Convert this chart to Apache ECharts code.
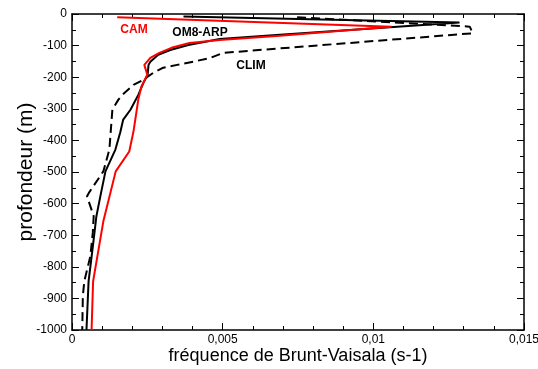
<!DOCTYPE html>
<html>
<head>
<meta charset="utf-8">
<script src="https://cdn.jsdelivr.net/npm/echarts@6/dist/echarts.min.js"></script>
<style>
html,body{margin:0;padding:0;background:#fff;}
#c{width:538px;height:369px;}
</style>
</head>
<body>
<div id="c"></div>
<script>
// Brunt-Vaisala frequency (s-1) vs depth (m)
var camDepth = [-10, -40, -69, -82, -92, -107, -123, -139, -161, -192, -230, -271, -334, -372, -435, -498, -656, -846, -1000];
var camN     = [0.0015, 0.0106, 0.0069, 0.0049, 0.0039, 0.0033, 0.0029, 0.0026, 0.0024, 0.0025, 0.0023, 0.0022, 0.0021, 0.00204, 0.0019, 0.00145, 0.00104, 0.0007, 0.00065];

var omDepth = [-8, -27, -66, -79, -98, -114, -129, -151, -161, -192, -218, -256, -303, -334, -375, -429, -498, -577, -640, -745, -846, -1000];
var omN     = [0.0037, 0.01286, 0.0069, 0.0049, 0.00386, 0.00326, 0.00286, 0.0026, 0.00254, 0.00251, 0.00237, 0.0022, 0.00194, 0.0017, 0.0016, 0.00144, 0.00111, 0.00094, 0.00081, 0.00068, 0.00055, 0.00048];

var climDepth = [-10, -40, -61, -123, -139, -151, -161, -170, -186, -208, -224, -256, -271, -303, -429, -498, -566, -577, -640, -692, -766, -845, -892, -1000];
var climN     = [0.00747, 0.0132, 0.0133, 0.00502, 0.00459, 0.00402, 0.00349, 0.00303, 0.0027, 0.00237, 0.00204, 0.00167, 0.00154, 0.00134, 0.00124, 0.00104, 0.00056, 0.0005, 0.00072, 0.00069, 0.00061, 0.00041, 0.00036, 0.00034];

var xTickLabels = ['0', '0,005', '0,01', '0,015'];
var yTickLabels = ['-1000', '-900', '-800', '-700', '-600', '-500', '-400', '-300', '-200', '-100', '0'];

var seriesNames = ['CAM', 'OM8-ARP', 'CLIM'];
var xTitle = 'fréquence de Brunt-Vaisala (s-1)';
var yTitle = 'profondeur (m)';

function pairs(xs, ys) { return xs.map(function (v, i) { return [v, ys[i]]; }); }

var FONT = '"Liberation Sans", Arial, sans-serif';
var chart = echarts.init(document.getElementById('c'), null, { renderer: 'canvas' });

var axisLineStyle = { show: true, onZero: false, lineStyle: { color: '#000', width: 1.5 } };
var xBase = {
  type: 'value', min: 0, max: 0.015, interval: 0.005,
  axisLine: axisLineStyle,
  axisTick: { show: true, inside: true, length: 7, lineStyle: { color: '#000', width: 1 } },
  minorTick: { show: true, splitNumber: 5, length: 4, lineStyle: { color: '#000', width: 1 } },
  splitLine: { show: false }, minorSplitLine: { show: false }
};
var yBase = {
  type: 'value', min: -1000, max: 0, interval: 100,
  axisLine: axisLineStyle,
  axisTick: { show: true, inside: true, length: 7, lineStyle: { color: '#000', width: 1 } },
  minorTick: { show: true, splitNumber: 2, length: 4, lineStyle: { color: '#000', width: 1 } },
  splitLine: { show: false }, minorSplitLine: { show: false }
};

var option = {
  backgroundColor: '#fff',
  animation: false,
  grid: { left: 72, right: 14, top: 14, bottom: 39, containLabel: false, outerBoundsMode: 'none' },
  xAxis: [
    Object.assign({}, xBase, {
      position: 'bottom',
      axisLabel: { show: true, margin: 4, color: '#000', fontSize: 12, fontFamily: FONT,
        formatter: function (v) { return xTickLabels[Math.round(v / 0.005)]; } },
      name: xTitle, nameLocation: 'middle', nameGap: 17, nameMoveOverlap: false,
      nameTextStyle: { color: '#000', fontSize: 18, fontFamily: FONT, verticalAlign: 'top' }
    }),
    Object.assign({}, xBase, { position: 'top', axisLabel: { show: false } })
  ],
  yAxis: [
    Object.assign({}, yBase, {
      position: 'left',
      axisLabel: { show: true, margin: 5, color: '#000', fontSize: 12, fontFamily: FONT,
        formatter: function (v) { return yTickLabels[Math.round((v + 1000) / 100)]; } },
      name: yTitle, nameLocation: 'middle', nameGap: 35, nameRotate: 90, nameMoveOverlap: false,
      nameTextStyle: { color: '#000', fontSize: 21, fontFamily: FONT }
    }),
    Object.assign({}, yBase, { position: 'right', axisLabel: { show: false } })
  ],
  series: [
    { name: seriesNames[2], type: 'line', data: pairs(climN, climDepth), showSymbol: false, symbol: 'none',
      lineStyle: { color: '#000', width: 2, type: [9, 5] }, z: 2 },
    { name: seriesNames[1], type: 'line', data: pairs(omN, omDepth), showSymbol: false, symbol: 'none',
      lineStyle: { color: '#000', width: 2 }, z: 3 },
    { name: seriesNames[0], type: 'line', data: pairs(camN, camDepth), showSymbol: false, symbol: 'none',
      lineStyle: { color: '#ff0000', width: 2 }, z: 4 }
  ],
  graphic: [
    { type: 'text', x: 134, y: 30, style: { text: seriesNames[0], fill: '#ff0000', font: 'bold 12px ' + FONT, textAlign: 'center', textVerticalAlign: 'middle' } },
    { type: 'text', x: 200, y: 33, style: { text: seriesNames[1], fill: '#000', font: 'bold 12px ' + FONT, textAlign: 'center', textVerticalAlign: 'middle' } },
    { type: 'text', x: 251, y: 66, style: { text: seriesNames[2], fill: '#000', font: 'bold 12px ' + FONT, textAlign: 'center', textVerticalAlign: 'middle' } }
  ]
};
chart.setOption(option);
</script>
</body>
</html>
